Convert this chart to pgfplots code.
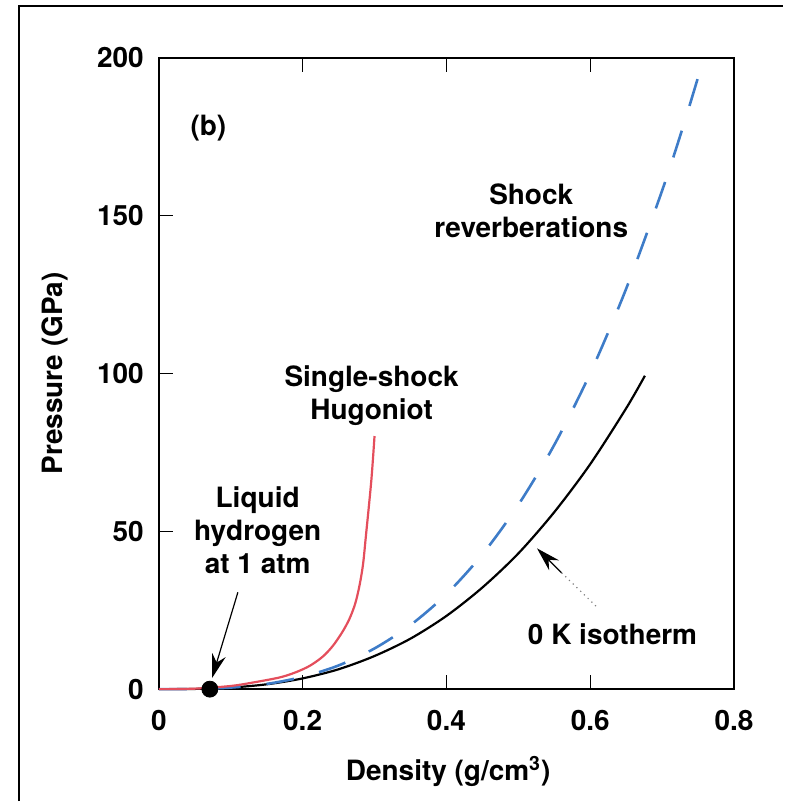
\documentclass[border=0pt]{standalone}
\usepackage{pgfplots}
\pgfplotsset{compat=1.18}
\usepackage{fontspec}
\setmainfont{TeX Gyre Heros}
\usetikzlibrary{arrows.meta}
\definecolor{hugred}{RGB}{228,78,92}
\definecolor{revblue}{RGB}{62,124,200}
\begin{document}
\begin{tikzpicture}
\begin{axis}[
  scale only axis,
  width=288pt, height=316pt,
  xmin=0, xmax=0.8, ymin=0, ymax=200,
  clip=false,
  axis line style={line width=1pt},
  font=\fontsize{14}{16}\selectfont\bfseries,
  /pgf/number format/assume math mode=true,
  xtick={0,0.2,0.4,0.6,0.8},
  xticklabels={0,0.2,0.4,0.6,0.8},
  ytick={0,50,100,150,200},
  yticklabels={0,50,100,150,200},
  xtick pos=both, ytick pos=left,
  tick align=inside,
  major tick length=7pt,
  tick style={line width=0.7pt,black},
  xticklabel style={anchor=north, yshift=-7pt},
  yticklabel style={anchor=east, xshift=-4pt},
  xlabel={Density (g/cm\textsuperscript{3})},
  ylabel={Pressure (GPa)},
  xlabel style={at={(axis description cs:0.503,-0.13)}, anchor=center},
  ylabel style={at={(axis description cs:-0.181,0.5)}, anchor=center},
]
% 0 K isotherm
\addplot[black, line width=1.1pt, smooth] coordinates {
(0,0) (0.05,0.07) (0.1,0.5) (0.15,1.53) (0.2,3.4) (0.25,6.3) (0.3,10.5)
(0.35,16.0) (0.4,23.2) (0.45,32.2) (0.5,43.0) (0.55,56.1) (0.6,71.3)
(0.65,89.0) (0.676,99.3)};
% Shock reverberations
\addplot[revblue, line width=1.3pt, dash pattern=on 14pt off 13pt, smooth] coordinates {
(0,0) (0.05,0.06) (0.1,0.5) (0.15,1.65) (0.2,3.9) (0.25,7.5) (0.3,12.9)
(0.35,20.3) (0.4,30.1) (0.45,42.7) (0.5,58.4) (0.55,77.4) (0.6,100.1)
(0.65,126.9) (0.7,158.0) (0.73,178.9) (0.758,200)};
% Single-shock Hugoniot
\addplot[hugred, line width=1.1pt, smooth] coordinates {
(0,0) (0.05,0.15) (0.1,1.0) (0.131,2.1) (0.168,3.7) (0.19,5.3) (0.21,7.4)
(0.228,10.3) (0.242,13.7) (0.255,18.0) (0.265,22.2) (0.273,27.0)
(0.279,32.7) (0.284,39.5) (0.288,48.5) (0.2955,66.0) (0.300,80.2)};
% liquid hydrogen point
\addplot[only marks, mark=*, mark size=4pt, black] coordinates {(0.071,0)};
% annotations
\node at (axis cs:0.069,177.8) {(b)};
\node[align=center, font=\fontsize{14}{16.5}\selectfont\bfseries] at (axis cs:0.518,151.6) {Shock\\reverberations};
\node[align=center, font=\fontsize{14}{16.5}\selectfont\bfseries] at (axis cs:0.296,92.9) {Single-shock\\Hugoniot};
\node[align=center, font=\fontsize{14}{16.5}\selectfont\bfseries] at (axis cs:0.1375,50.3) {Liquid\\hydrogen\\at 1 atm};
\node at (axis cs:0.631,17.4) {0 K isotherm};
\draw[-{Stealth[length=12pt,width=7pt]}, line width=0.6pt] (axis cs:0.110,30.7) -- (axis cs:0.074,3.5);
\draw[line width=0.6pt, gray, dotted] (axis cs:0.608,26.3) -- (axis cs:0.56,36.9);
\draw[-{Stealth[length=12pt,width=7pt]}, line width=0.6pt, black] (axis cs:0.56,36.9) -- (axis cs:0.526,44.6);
\end{axis}
\draw[line width=1pt] ([shift={(-70pt,-56pt)}]current axis.south west) -- ([shift={(-70pt,342pt)}]current axis.south west) -- ([shift={(312.5pt,342pt)}]current axis.south west);
\path[use as bounding box] ([shift={(-79.5pt,-56pt)}]current axis.south west) rectangle ([shift={(312.5pt,345pt)}]current axis.south west);
\end{tikzpicture}
\end{document}
